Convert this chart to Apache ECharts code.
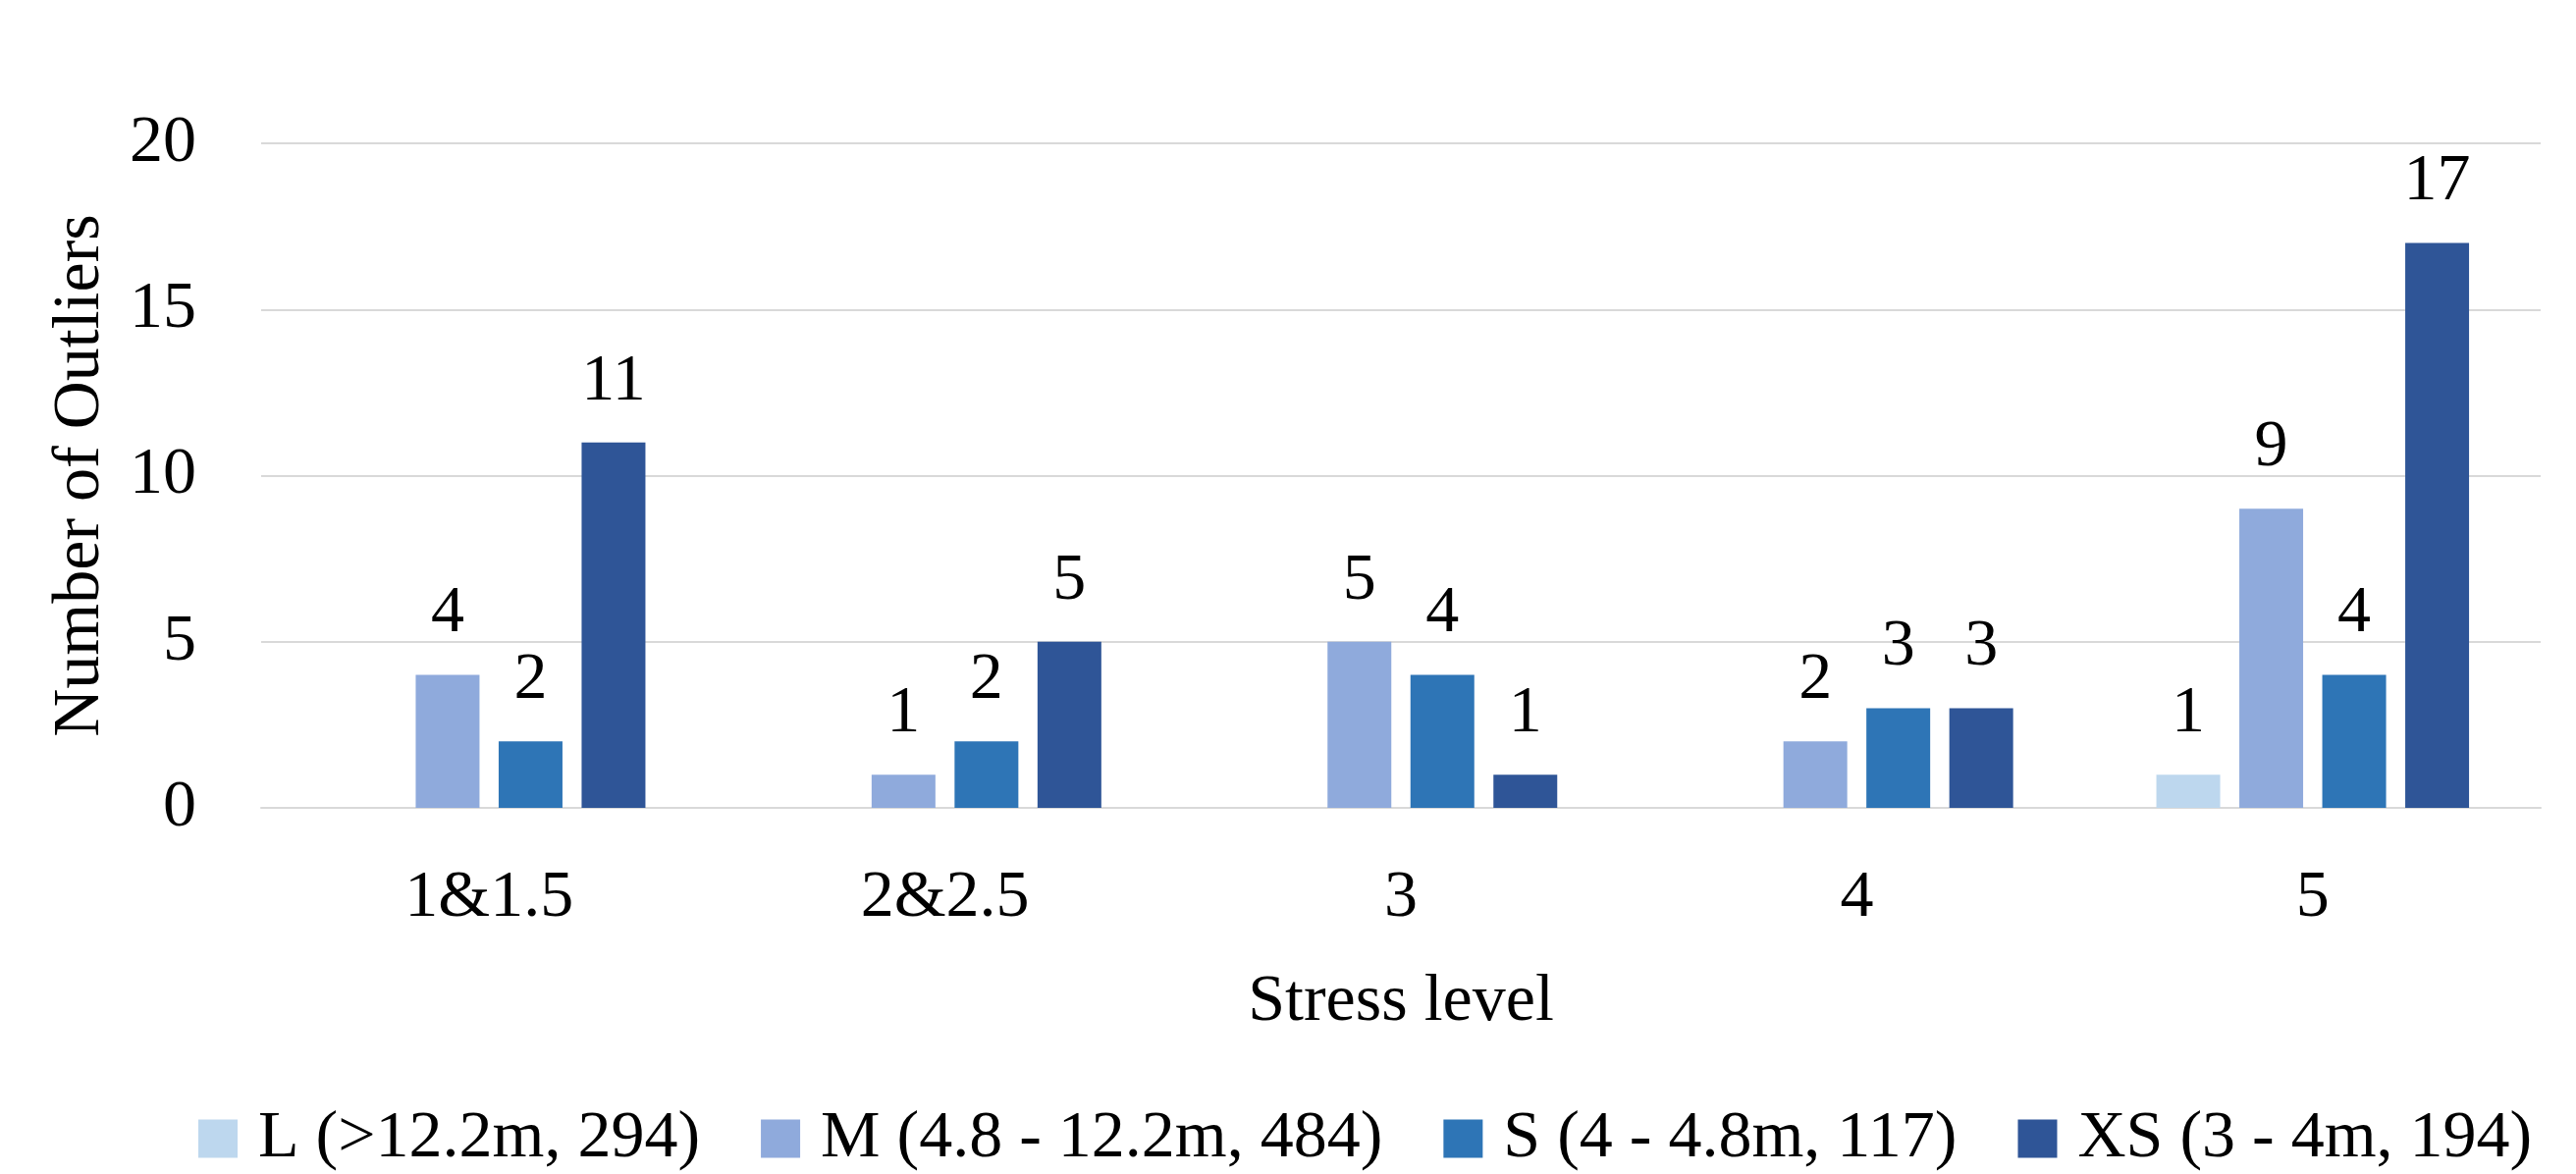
<!DOCTYPE html>
<html>
<head>
<meta charset="utf-8">
<script src="https://cdn.jsdelivr.net/npm/echarts@6/dist/echarts.min.js"></script>
<style>
html,body{margin:0;padding:0;background:#fff;}
#chart{width:2624px;height:1196px;}
</style>
</head>
<body>
<div id="chart"></div>
<script>
const categories = ['1&1.5', '2&2.5', '3', '4', '5'];
const seriesNames = ['L (>12.2m, 294)', 'M (4.8 - 12.2m, 484)', 'S (4 - 4.8m, 117)', 'XS (3 - 4m, 194)'];
const valuesL = [null, null, null, null, 1];
const valuesM = [4, 1, 5, 2, 9];
const valuesS = [2, 2, 4, 3, 4];
const valuesXS = [11, 5, 1, 3, 17];
const yTicks = [0, 5, 10, 15, 20];
const colors = ['#BDD7EE', '#8FAADC', '#2E75B6', '#2F5597'];

const FONT = '"Liberation Serif", "DejaVu Serif", serif';
const allValues = [valuesL, valuesM, valuesS, valuesXS];

const chart = echarts.init(document.getElementById('chart'), null, {renderer: 'canvas'});
chart.setOption({
  backgroundColor: '#ffffff',
  animation: false,
  textStyle: {fontFamily: FONT, color: '#000'},
  grid: {left: 266, right: 36, top: 146, bottom: 373, containLabel: false},
  legend: {
    data: seriesNames,
    left: 197,
    top: 1121,
    itemWidth: 40,
    itemHeight: 39,
    itemGap: 62,
    icon: 'rect',
    textStyle: {fontFamily: FONT, fontSize: 68, color: '#000', padding: [0, 0, 0, 16]}
  },
  xAxis: {
    type: 'category',
    data: categories,
    name: 'Stress level',
    nameLocation: 'middle',
    nameGap: 164,
    nameTextStyle: {fontFamily: FONT, fontSize: 68, color: '#000'},
    axisLine: {show: true, lineStyle: {color: '#D9D9D9', width: 2}},
    axisTick: {show: false},
    axisLabel: {fontFamily: FONT, fontSize: 68, color: '#000', margin: 58}
  },
  yAxis: {
    type: 'value',
    min: yTicks[0],
    max: yTicks[yTicks.length - 1],
    interval: 5,
    name: 'Number of Outliers',
    nameLocation: 'middle',
    nameGap: 150,
    nameTextStyle: {fontFamily: FONT, fontSize: 68, color: '#000'},
    axisLine: {show: false},
    axisTick: {show: false},
    axisLabel: {fontFamily: FONT, fontSize: 68, color: '#000', margin: 66},
    splitLine: {lineStyle: {color: '#D9D9D9', width: 2}}
  },
  series: seriesNames.map((name, i) => ({
    name: name,
    type: 'bar',
    data: allValues[i],
    barWidth: 65,
    barGap: '30%',
    itemStyle: {color: colors[i]},
    label: {
      show: true,
      position: 'top',
      distance: 28,
      fontFamily: FONT,
      fontSize: 68,
      color: '#000'
    }
  }))
});
</script>
</body>
</html>
